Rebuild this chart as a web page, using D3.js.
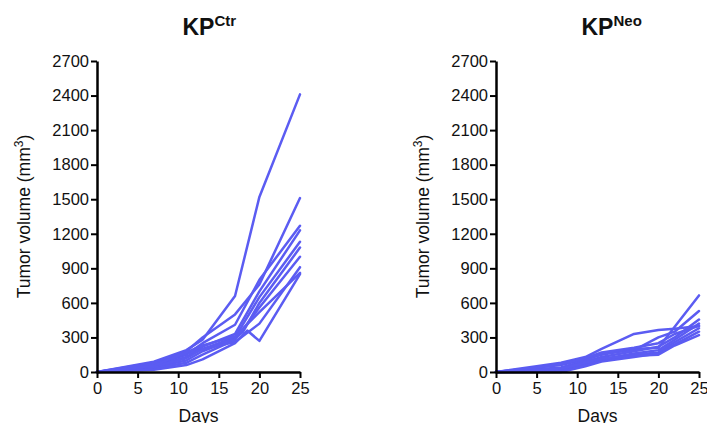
<!DOCTYPE html>
<html>
<head>
<meta charset="utf-8">
<script src="https://cdn.jsdelivr.net/npm/d3@7"></script>
<style>
  body { margin: 0; background: #fff; }
  text { font-family: "Liberation Sans", Arial, sans-serif; fill: #111; }
</style>
</head>
<body>
<svg id="chart" width="707" height="423"></svg>
<script>
// tumour volume per mouse, [day, mm3]
const ctrMice = [
  [[0,0],[7,90],[11,190],[13,280],[17,660],[20,1520],[25,2410]],
  [[0,0],[7,80],[11,180],[13,300],[17,500],[20,760],[25,1510]],
  [[0,0],[7,60],[11,150],[13,250],[17,410],[20,800],[25,1270]],
  [[0,0],[7,50],[11,130],[13,220],[17,330],[20,700],[25,1230]],
  [[0,0],[7,70],[11,160],[13,200],[17,300],[20,650],[25,1130]],
  [[0,0],[7,40],[11,100],[13,180],[17,290],[18,350],[20,600],[25,1080]],
  [[0,0],[7,30],[11,80],[13,150],[17,280],[20,560],[25,1000]],
  [[0,0],[7,45],[11,120],[13,200],[17,260],[20,420],[25,910]],
  [[0,0],[7,20],[11,60],[13,110],[17,250],[18.5,360],[20,270],[25,850]],
  [[0,0],[7,55],[11,170],[13,230],[17,310],[20,520],[25,860]]
];
const neoMice = [
  [[0,0],[5,50],[8,80],[11,130],[13,200],[17,330],[20,365],[22,375],[25,400]],
  [[0,0],[8,60],[11,110],[13,150],[17,200],[20,210],[25,665]],
  [[0,0],[8,40],[11,100],[13,160],[17,190],[20,300],[22,350],[25,530]],
  [[0,0],[8,20],[11,90],[13,130],[17,180],[20,220],[22,300],[25,455]],
  [[0,0],[8,10],[11,70],[13,110],[17,160],[20,190],[22,280],[25,420]],
  [[0,0],[8,5],[11,60],[13,100],[17,150],[20,170],[22,260],[25,380]],
  [[0,0],[8,0],[11,50],[13,90],[17,130],[20,160],[22,240],[25,350]],
  [[0,0],[8,30],[11,80],[13,120],[17,140],[20,150],[22,230],[25,320]],
  [[0,0],[5,40],[8,70],[11,120],[13,170],[17,210],[20,250],[22,330],[25,400]]
];
const yTicks = [0, 300, 600, 900, 1200, 1500, 1800, 2100, 2400, 2700];
const xTicks = [0, 5, 10, 15, 20, 25];
const panels = [
  {title: 'KP', sup: 'Ctr', mice: ctrMice},
  {title: 'KP', sup: 'Neo', mice: neoMice}
];

const svg = d3.select('#chart');
const lineColor = '#5b5cf2';
const plotW = 203, plotH = 311;
const offsets = [{x: 97, y: 61}, {x: 496, y: 61}];

panels.forEach((p, i) => {
  const g = svg.append('g')
    .attr('transform', `translate(${offsets[i].x},${offsets[i].y})`);

  const x = d3.scaleLinear().domain([0, 25]).range([0, plotW]);
  const y = d3.scaleLinear().domain([0, 2700]).range([plotH, 0]);

  const line = d3.line().x(d => x(d[0])).y(d => y(d[1]));

  g.selectAll('.mouse').data(p.mice).enter().append('path')
    .attr('class', 'mouse')
    .attr('d', line)
    .attr('fill', 'none')
    .attr('stroke', lineColor)
    .attr('stroke-width', 2.5)
    .attr('stroke-linejoin', 'round')
    .attr('stroke-linecap', 'round');

  const yAxis = g.append('g')
    .call(d3.axisLeft(y).tickValues(yTicks).tickFormat(d3.format('d'))
      .tickSize(6).tickPadding(2).tickSizeOuter(0));
  const xAxis = g.append('g')
    .attr('transform', `translate(0,${plotH})`)
    .call(d3.axisBottom(x).tickValues(xTicks).tickFormat(d3.format('d'))
      .tickSize(6).tickPadding(4).tickSizeOuter(0));

  [yAxis, xAxis].forEach(a => {
    a.select('.domain').attr('stroke', '#000').attr('stroke-width', 2.5);
    a.selectAll('.tick line').attr('stroke', '#000').attr('stroke-width', 2);
    a.selectAll('.tick text')
      .style('font-family', '"Liberation Sans", Arial, sans-serif')
      .style('font-size', '16.5px')
      .attr('fill', '#111');
  });

  // title: "KP" centred over plot, superscript appended
  const t = g.append('text')
    .attr('x', plotW / 2 - 16)
    .attr('y', -26)
    .style('font-size', '23px')
    .style('font-weight', 'bold');
  t.append('tspan').text(p.title);
  t.append('tspan').text(p.sup)
    .attr('dy', -9)
    .style('font-size', '15px');

  g.append('text')
    .attr('x', plotW / 2)
    .attr('y', plotH + 50)
    .attr('text-anchor', 'middle')
    .style('font-size', '17.5px')
    .text('Days');

  const yl = g.append('text')
    .attr('transform', `translate(-67,${plotH / 2}) rotate(-90)`)
    .attr('text-anchor', 'middle')
    .style('font-size', '17.5px');
  yl.append('tspan').text('Tumor volume (mm');
  yl.append('tspan').text('3').attr('dy', -7).style('font-size', '12px');
  yl.append('tspan').text(')').attr('dy', 7);
});
</script>
</body>
</html>
